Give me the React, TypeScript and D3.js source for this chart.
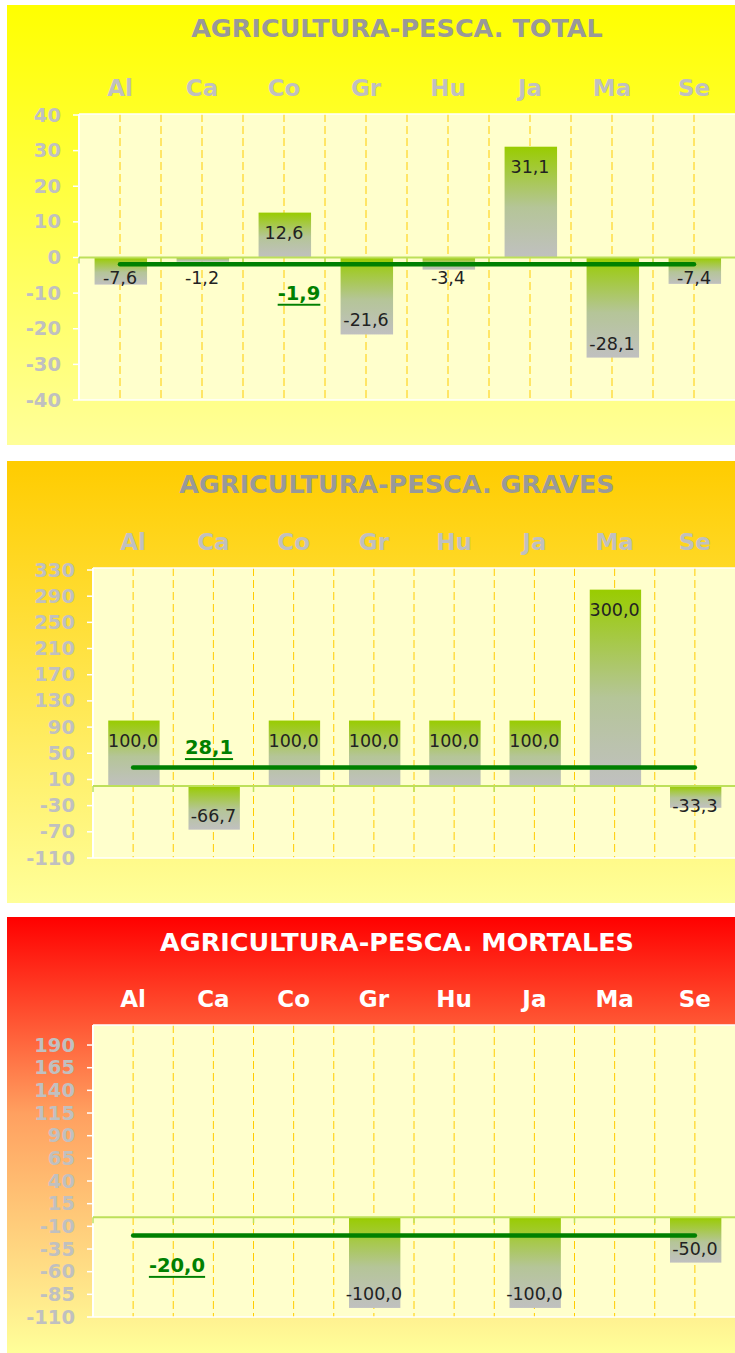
import * as d3 from "d3";
import React from "react";

// datos
const categories = ["Al", "Ca", "Co", "Gr", "Hu", "Ja", "Ma", "Se"];

const totalValues: (number | null)[] = [-7.6, -1.2, 12.6, -21.6, -3.4, 31.1, -28.1, -7.4];
const totalAverage = -1.9;
const totalTicks = [40, 30, 20, 10, 0, -10, -20, -30, -40];

const gravesValues: (number | null)[] = [100, -66.7, 100, 100, 100, 100, 300, -33.3];
const gravesAverage = 28.1;
const gravesTicks = [330, 290, 250, 210, 170, 130, 90, 50, 10, -30, -70, -110];

const mortalesValues: (number | null)[] = [null, null, null, -100, null, -100, null, -50];
const mortalesAverage = -20.0;
const mortalesTicks = [190, 165, 140, 115, 90, 65, 40, 15, -10, -35, -60, -85, -110];

const FONT = "'DejaVu Sans', Verdana, sans-serif";
const fmt = (v: number) => d3.format(".1f")(v).replace(".", ",").replace("−", "-");

type PanelProps = {
  id: string;
  title: string;
  values: (number | null)[];
  average: number;
  ticks: number[];
  domain: [number, number];
  top: number;
  bottom: number;
  plotLeft: number;
  plotTop: number;
  plotBottom: number;
  rangeTop: number;
  rangeBottom: number;
  titleY: number;
  catY: number;
  bgStops: [number, string][];
  titleColor: string;
  catColor: string;
  avgLabelX: number;
  avgLabelDy: number;
};

const Panel = (p: PanelProps) => {
  const right = 735;
  const x = d3.scaleBand<string>().domain(categories).range([p.plotLeft, right]).padding(0);
  const y = d3.scaleLinear().domain(p.domain).range([p.rangeBottom, p.rangeTop]);
  const bw = x.bandwidth();
  const zero = y(0);
  const center = (c: string) => (x(c) as number) + bw / 2;

  const labelY = (v: number) => {
    if (v >= 0) return y(v) + 20;
    return Math.max(zero + 20, y(v) - 14);
  };

  return (
    <g>
      <defs>
        <linearGradient id={`bg-${p.id}`} x1="0" y1="0" x2="0" y2="1">
          {p.bgStops.map(([o, c], i) => (
            <stop key={i} offset={o} stopColor={c} />
          ))}
        </linearGradient>
        <linearGradient id={`bar-${p.id}`} x1="0" y1="0" x2="0" y2="1">
          <stop offset="0" stopColor="#99cc00" />
          <stop offset="0.55" stopColor="#b5c598" />
          <stop offset="1" stopColor="#c0c0c0" />
        </linearGradient>
      </defs>

      {/* fondo */}
      <rect x={7} y={p.top} width={right - 7} height={p.bottom - p.top} fill={`url(#bg-${p.id})`} />
      <rect x={p.plotLeft} y={p.plotTop} width={right - p.plotLeft} height={p.plotBottom - p.plotTop} fill="#ffffcc" />

      {/* título y categorías */}
      <text x={397} y={p.titleY} textAnchor="middle" dominantBaseline="central"
        fontFamily={FONT} fontWeight="bold" fontSize={25.5} fill={p.titleColor}>
        {p.title}
      </text>
      {categories.map(c => (
        <text key={c} x={center(c)} y={p.catY} textAnchor="middle" dominantBaseline="central"
          fontFamily={FONT} fontWeight="bold" fontSize={23} fill={p.catColor}>
          {c}
        </text>
      ))}

      {/* rejilla discontinua */}
      {categories.map(c => (
        <g key={c}>
          <line x1={center(c)} x2={center(c)} y1={p.plotTop} y2={p.plotBottom}
            stroke="#ffcc00" strokeDasharray="8,4" />
          {c !== "Al" && (
            <line x1={x(c)} x2={x(c)} y1={p.plotTop} y2={p.plotBottom}
              stroke="#ffcc00" strokeDasharray="8,4" />
          )}
        </g>
      ))}

      {/* bordes del área */}
      <line x1={p.plotLeft} x2={right} y1={p.plotTop} y2={p.plotTop} stroke="#ffffff" strokeWidth={1.5} />
      <line x1={p.plotLeft} x2={right} y1={p.plotBottom} y2={p.plotBottom} stroke="#ffffff" strokeWidth={1.5} />
      <line x1={p.plotLeft} x2={p.plotLeft} y1={p.plotTop} y2={p.plotBottom} stroke="#ffffff" strokeWidth={2} />

      {/* eje Y */}
      {p.ticks.map(t => (
        <g key={t}>
          <line x1={p.plotLeft - 6} x2={p.plotLeft} y1={y(t)} y2={y(t)} stroke="#ffffff" strokeWidth={1.5} />
          <text x={p.plotLeft - 18} y={y(t)} textAnchor="end" dominantBaseline="central"
            fontFamily={FONT} fontWeight="bold" fontSize={19.5} fill="#c0c0c0">
            {t}
          </text>
        </g>
      ))}

      {/* barras */}
      {p.values.map((v, i) => v === null ? null : (
        <rect key={i} x={(x(categories[i]) as number) + bw * 0.19} width={bw * 0.64}
          y={Math.min(y(v), zero)} height={Math.abs(y(v) - zero)} fill={`url(#bar-${p.id})`} />
      ))}

      {/* línea de cero */}
      <line x1={p.plotLeft} x2={right} y1={zero} y2={zero} stroke="#bde05a" strokeWidth={2} />
      {categories.map(c => (
        <line key={c} x1={x(c)} x2={x(c)} y1={zero} y2={zero + 6} stroke="#bde05a" strokeWidth={1.5} />
      ))}

      {/* media */}
      <line x1={center(categories[0])} x2={center(categories[categories.length - 1])}
        y1={y(p.average)} y2={y(p.average)} stroke="#008000" strokeWidth={4.5} strokeLinecap="round" />

      {/* etiquetas */}
      {p.values.map((v, i) => v === null ? null : (
        <text key={i} x={center(categories[i])} y={labelY(v)} textAnchor="middle" dominantBaseline="central"
          fontFamily={FONT} fontSize={17.5} fill="#222222">
          {fmt(v)}
        </text>
      ))}
      <text x={p.avgLabelX} y={y(p.average) + p.avgLabelDy} textAnchor="middle" dominantBaseline="central"
        fontFamily={FONT} fontWeight="bold" fontSize={19.5} fill="#008000" textDecoration="underline">
        {fmt(p.average)}
      </text>
    </g>
  );
};

export default function App() {
  return (
    <svg width={735} height={1353} style={{ position: "absolute", left: 0, top: 0, display: "block" }}>
      <rect x={0} y={0} width={735} height={1353} fill="#ffffff" />
      <Panel id="total" title="AGRICULTURA-PESCA. TOTAL" values={totalValues} average={totalAverage}
        ticks={totalTicks} domain={[-40, 40]} top={5} bottom={445} plotLeft={79} plotTop={114} plotBottom={400}
        rangeTop={115} rangeBottom={400} titleY={28} catY={88}
        bgStops={[[0, "#ffff00"], [1, "#ffff99"]]} titleColor="#999999" catColor="#c0c0c0"
        avgLabelX={299} avgLabelDy={29} />
      <Panel id="graves" title="AGRICULTURA-PESCA. GRAVES" values={gravesValues} average={gravesAverage}
        ticks={gravesTicks} domain={[-110, 330]} top={461} bottom={903} plotLeft={93} plotTop={568} plotBottom={858}
        rangeTop={570} rangeBottom={858} titleY={484} catY={542}
        bgStops={[[0, "#ffcc00"], [1, "#ffff99"]]} titleColor="#999999" catColor="#c0c0c0"
        avgLabelX={209} avgLabelDy={-20} />
      <Panel id="mortales" title="AGRICULTURA-PESCA. MORTALES" values={mortalesValues} average={mortalesAverage}
        ticks={mortalesTicks} domain={[-110, 211]} top={917} bottom={1353} plotLeft={93} plotTop={1025} plotBottom={1317}
        rangeTop={1026} rangeBottom={1317} titleY={942} catY={999}
        bgStops={[[0, "#ff0000"], [0.45, "#ffa060"], [1, "#ffff99"]]} titleColor="#ffffff" catColor="#ffffff"
        avgLabelX={177} avgLabelDy={30} />
    </svg>
  );
}
